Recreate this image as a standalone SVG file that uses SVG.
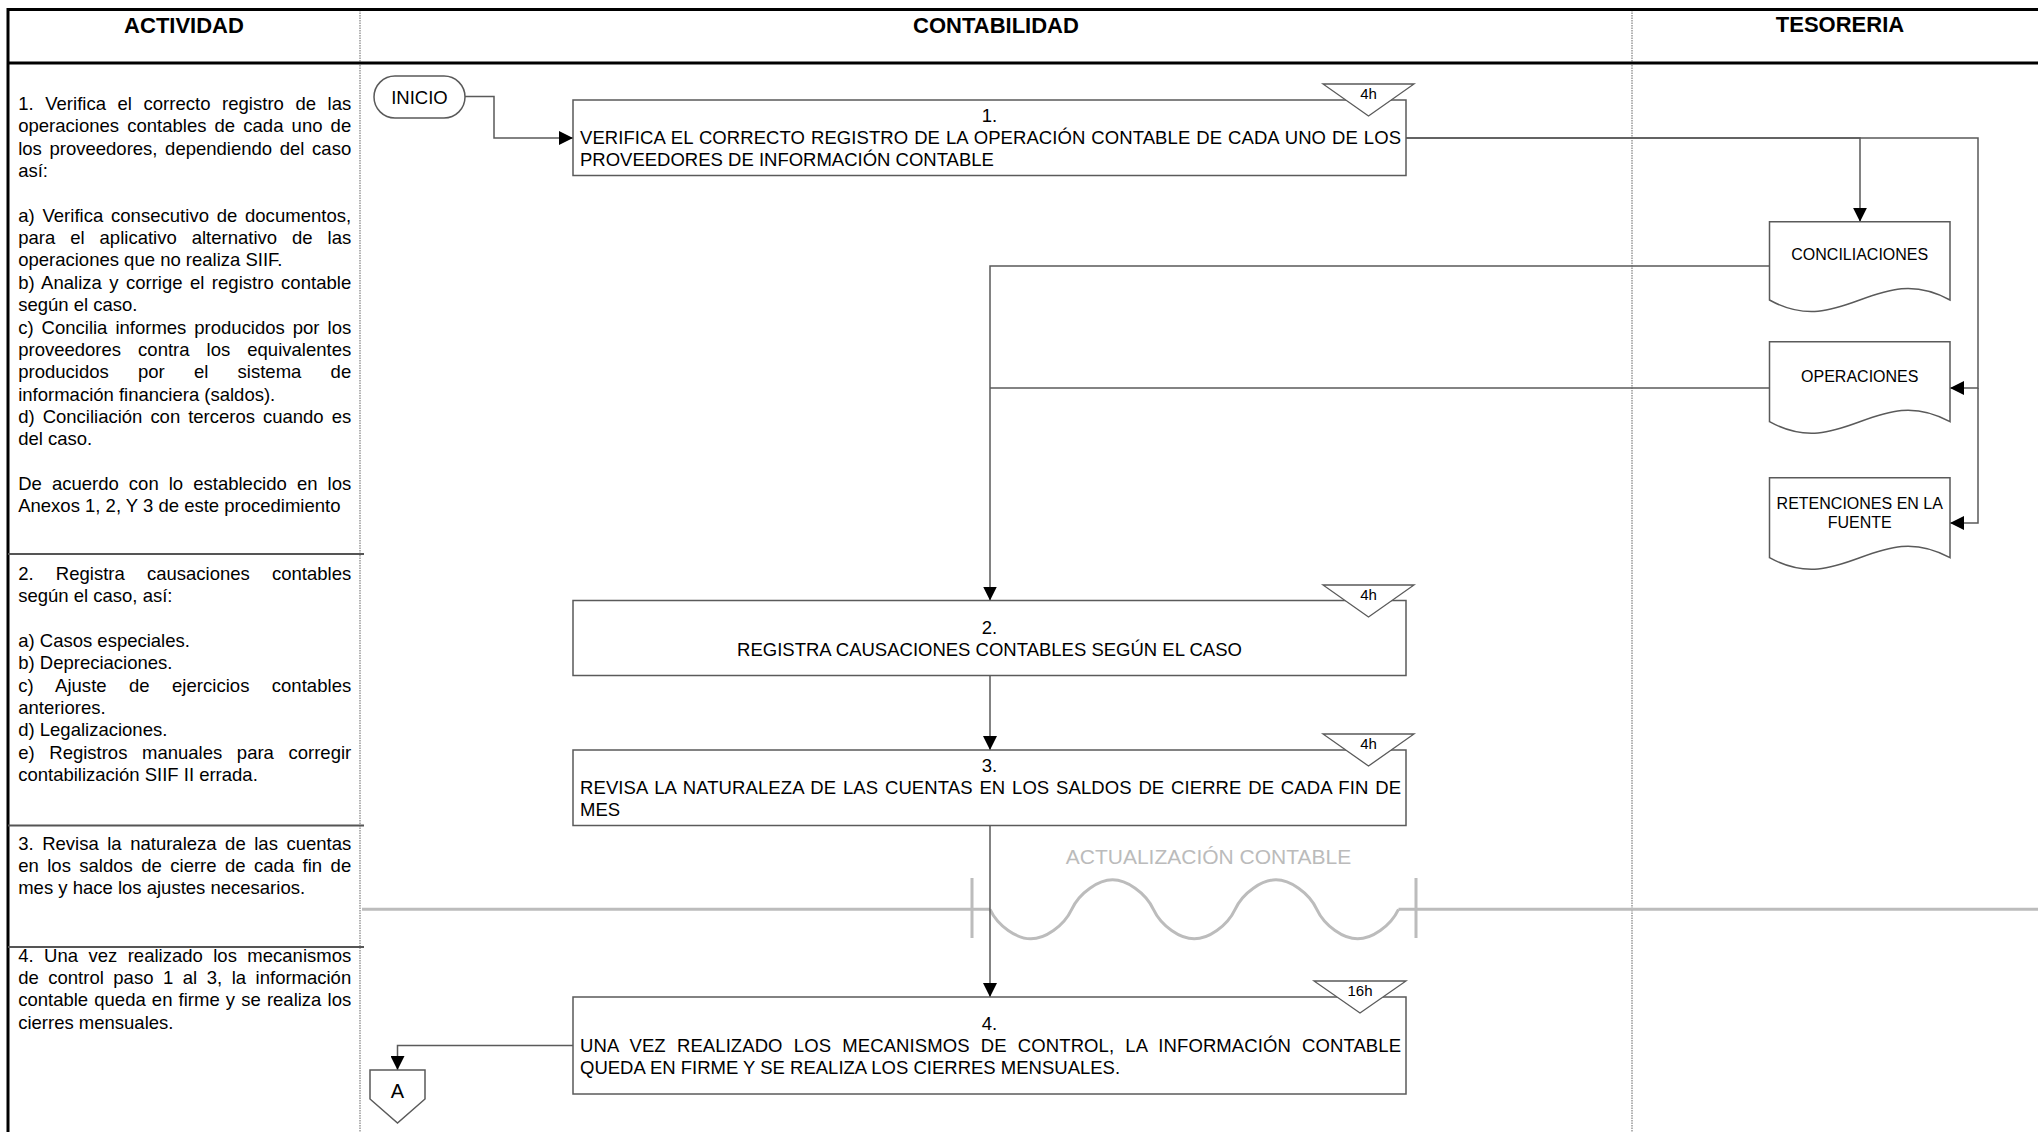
<svg xmlns="http://www.w3.org/2000/svg" width="2038" height="1132" viewBox="0 0 2038 1132">
<style>
.t{font-family:"Liberation Sans",Arial,sans-serif;font-size:18.5px;fill:#000}
.m{text-anchor:middle}
.h{font-family:"Liberation Sans",Arial,sans-serif;font-size:22px;font-weight:bold;fill:#000;text-anchor:middle}
.s{font-family:"Liberation Sans",Arial,sans-serif;font-size:15px;fill:#000;text-anchor:middle}
.d{font-family:"Liberation Sans",Arial,sans-serif;font-size:16px;fill:#000;text-anchor:middle}
.box{fill:#fff;stroke:#5a5a5a;stroke-width:1.5}
.tri{fill:#fff;stroke:#5a5a5a;stroke-width:1.3}
.conn{fill:none;stroke:#5a5a5a;stroke-width:1.5}
.frame{fill:none;stroke:#000;stroke-width:3}
.row{fill:none;stroke:#555;stroke-width:2}
.col{fill:none;stroke:#999;stroke-width:1.5;stroke-dasharray:1.5 1}
.sep{fill:none;stroke:#bcbcbc;stroke-width:3}
</style>
<defs>
<marker id="arr" viewBox="0 0 14 14" refX="14" refY="7" markerWidth="14" markerHeight="14" markerUnits="userSpaceOnUse" orient="auto"><path d="M0,0 L14,7 L0,14 z" fill="#000"/></marker>
</defs>

<g id="frame">
<path class="col" d="M360,10 V1132 M1632,10 V1132"/>
<path class="frame" d="M8,9.5 H2038 M8,63 H2038 M8,8 V1132"/>
<path class="row" d="M8,554 H364 M8,825.5 H364 M8,947 H364"/>
<text class="h" x="184" y="33">ACTIVIDAD</text>
<text class="h" x="996" y="33">CONTABILIDAD</text>
<text class="h" x="1840" y="32">TESORERIA</text>
</g>

<g id="actividad-1" class="t">
<text x="18.2" y="110" word-spacing="6.3" textLength="333" lengthAdjust="spacing">1. Verifica el correcto registro de las</text>
<text x="18.2" y="132.35" word-spacing="3" textLength="333" lengthAdjust="spacing">operaciones contables de cada uno de</text>
<text x="18.2" y="154.7" word-spacing="2.5" textLength="333" lengthAdjust="spacing">los proveedores, dependiendo del caso</text>
<text x="18.2" y="177.05">así:</text>
<text x="18.2" y="221.75" word-spacing="2.5" textLength="333" lengthAdjust="spacing">a) Verifica consecutivo de documentos,</text>
<text x="18.2" y="244.1" word-spacing="9.8" textLength="333" lengthAdjust="spacing">para el aplicativo alternativo de las</text>
<text x="18.2" y="266.45">operaciones que no realiza SIIF.</text>
<text x="18.2" y="288.8" word-spacing="2.2" textLength="333" lengthAdjust="spacing">b) Analiza y corrige el registro contable</text>
<text x="18.2" y="311.15">según el caso.</text>
<text x="18.2" y="333.5" word-spacing="2.9" textLength="333" lengthAdjust="spacing">c) Concilia informes producidos por los</text>
<text x="18.2" y="355.85" word-spacing="11.9" textLength="333" lengthAdjust="spacing">proveedores contra los equivalentes</text>
<text x="18.2" y="378.2" word-spacing="24.1" textLength="333" lengthAdjust="spacing">producidos por el sistema de</text>
<text x="18.2" y="400.55">información financiera (saldos).</text>
<text x="18.2" y="422.9" word-spacing="2.9" textLength="333" lengthAdjust="spacing">d) Conciliación con terceros cuando es</text>
<text x="18.2" y="445.25">del caso.</text>
<text x="18.2" y="489.95" word-spacing="4.95" textLength="333" lengthAdjust="spacing">De acuerdo con lo establecido en los</text>
<text x="18.2" y="512.3">Anexos 1, 2, Y 3 de este procedimiento</text>
</g>

<g id="actividad-2" class="t">
<text x="18.2" y="580" word-spacing="17.1" textLength="333" lengthAdjust="spacing">2. Registra causaciones contables</text>
<text x="18.2" y="602.35">según el caso, así:</text>
<text x="18.2" y="647.05">a) Casos especiales.</text>
<text x="18.2" y="669.4">b) Depreciaciones.</text>
<text x="18.2" y="691.75" word-spacing="17.2" textLength="333" lengthAdjust="spacing">c) Ajuste de ejercicios contables</text>
<text x="18.2" y="714.1">anteriores.</text>
<text x="18.2" y="736.45">d) Legalizaciones.</text>
<text x="18.2" y="758.8" word-spacing="9.5" textLength="333" lengthAdjust="spacing">e) Registros manuales para corregir</text>
<text x="18.2" y="781.15">contabilización SIIF II errada.</text>
</g>

<g id="actividad-3" class="t">
<text x="18.2" y="849.5" word-spacing="3.4" textLength="333" lengthAdjust="spacing">3. Revisa la naturaleza de las cuentas</text>
<text x="18.2" y="871.85" word-spacing="3.3" textLength="333" lengthAdjust="spacing">en los saldos de cierre de cada fin de</text>
<text x="18.2" y="894.2">mes y hace los ajustes necesarios.</text>
</g>

<g id="actividad-4" class="t">
<text x="18.2" y="961.5" word-spacing="5.3" textLength="333" lengthAdjust="spacing">4. Una vez realizado los mecanismos</text>
<text x="18.2" y="983.85" word-spacing="4.4" textLength="333" lengthAdjust="spacing">de control paso 1 al 3, la información</text>
<text x="18.2" y="1006.2" word-spacing="1" textLength="333" lengthAdjust="spacing">contable queda en firme y se realiza los</text>
<text x="18.2" y="1028.55">cierres mensuales.</text>
</g>

<g id="actualizacion-contable">
<path class="sep" d="M362,909.3 H990 M1398.5,909.3 H2038 M972,878 V938 M1416,878 V938"/>
<path class="sep" d="M990,909.3 c8,17 27,29.5 40.85,29.5 c13.85,0 32.85,-12.5 40.85,-29.5 c8,-17 27,-29.5 40.85,-29.5 c13.85,0 32.85,12.5 40.85,29.5 c8,17 27,29.5 40.85,29.5 c13.85,0 32.85,-12.5 40.85,-29.5 c8,-17 27,-29.5 40.85,-29.5 c13.85,0 32.85,12.5 40.85,29.5 c8,17 27,29.5 40.85,29.5 c13.85,0 32.85,-12.5 40.85,-29.5"/>
<text x="1208.5" y="864" style="font-family:'Liberation Sans',Arial,sans-serif;font-size:21px;fill:#bbbbbb" text-anchor="middle">ACTUALIZACIÓN CONTABLE</text>
</g>

<g id="connectors">
<path class="conn" d="M465,96.5 H494 V138 H573" marker-end="url(#arr)"/>
<path class="conn" d="M1406,138 H1860 V221.7" marker-end="url(#arr)"/>
<path class="conn" d="M1406,138 H1978 V388 H1950" marker-end="url(#arr)"/>
<path class="conn" d="M1978,388 V523 H1950" marker-end="url(#arr)"/>
<path class="conn" d="M1769.5,266 H990 V600.5" marker-end="url(#arr)"/>
<path class="conn" d="M1769.5,388 H990"/>
<path class="conn" d="M990,675.5 V750" marker-end="url(#arr)"/>
<path class="conn" d="M990,825.5 V997" marker-end="url(#arr)"/>
<path class="conn" d="M573,1045.5 H397.5 V1070" marker-end="url(#arr)"/>
</g>

<g id="inicio">
<rect class="box" x="374" y="76" width="91" height="42" rx="21" ry="21"/>
<text class="t m" x="419.5" y="103.5">INICIO</text>
</g>

<g id="paso1">
<rect class="box" x="573" y="100" width="833" height="75.5"/>
<text class="t m" x="989.5" y="122">1.</text>
<text class="t" x="580" y="144" word-spacing="0.74" textLength="821" lengthAdjust="spacing">VERIFICA EL CORRECTO REGISTRO DE LA OPERACIÓN CONTABLE DE CADA UNO DE LOS</text>
<text class="t" x="580" y="166">PROVEEDORES DE INFORMACIÓN CONTABLE</text>
<polygon class="tri" points="1323,84 1414,84 1368.5,116"/>
<text class="s" x="1368.5" y="98.5">4h</text>
</g>

<g id="paso2">
<rect class="box" x="573" y="600.5" width="833" height="75"/>
<text class="t m" x="989.5" y="633.5">2.</text>
<text class="t m" x="989.5" y="655.5">REGISTRA CAUSACIONES CONTABLES SEGÚN EL CASO</text>
<polygon class="tri" points="1323,585 1414,585 1368.5,617"/>
<text class="s" x="1368.5" y="599.5">4h</text>
</g>

<g id="paso3">
<rect class="box" x="573" y="750" width="833" height="75.5"/>
<text class="t m" x="989.5" y="772">3.</text>
<text class="t" x="580" y="794" word-spacing="1.5" textLength="821" lengthAdjust="spacing">REVISA LA NATURALEZA DE LAS CUENTAS EN LOS SALDOS DE CIERRE DE CADA FIN DE</text>
<text class="t" x="580" y="816">MES</text>
<polygon class="tri" points="1323,734 1414,734 1368.5,766"/>
<text class="s" x="1368.5" y="748.5">4h</text>
</g>

<g id="paso4">
<rect class="box" x="573" y="997" width="833" height="97"/>
<text class="t m" x="989.5" y="1030">4.</text>
<text class="t" x="580" y="1052" word-spacing="6" textLength="821" lengthAdjust="spacing">UNA VEZ REALIZADO LOS MECANISMOS DE CONTROL, LA INFORMACIÓN CONTABLE</text>
<text class="t" x="580" y="1074">QUEDA EN FIRME Y SE REALIZA LOS CIERRES MENSUALES.</text>
<polygon class="tri" points="1314,981 1406,981 1360,1013"/>
<text class="s" x="1360" y="995.5">16h</text>
</g>

<g id="conector-a">
<polygon class="box" points="370,1070 425,1070 425,1099 397.5,1123 370,1099"/>
<text class="t m" x="397.5" y="1098" style="font-size:20px">A</text>
</g>

<g id="conciliaciones">
<path class="box" d="M1769.5,221.7 H1950 V300 C1877.8,260 1841.7,340 1769.5,300 Z"/>
<text class="d" x="1859.75" y="259.5">CONCILIACIONES</text>
</g>

<g id="operaciones">
<path class="box" d="M1769.5,341.7 H1950 V421.7 C1877.8,381.7 1841.7,461.7 1769.5,421.7 Z"/>
<text class="d" x="1859.75" y="381.5">OPERACIONES</text>
</g>

<g id="retenciones">
<path class="box" d="M1769.5,477.7 H1950 V557.7 C1877.8,517.7 1841.7,597.7 1769.5,557.7 Z"/>
<text class="d" x="1859.75" y="508.5">RETENCIONES EN LA</text>
<text class="d" x="1859.75" y="527.5">FUENTE</text>
</g>
</svg>
